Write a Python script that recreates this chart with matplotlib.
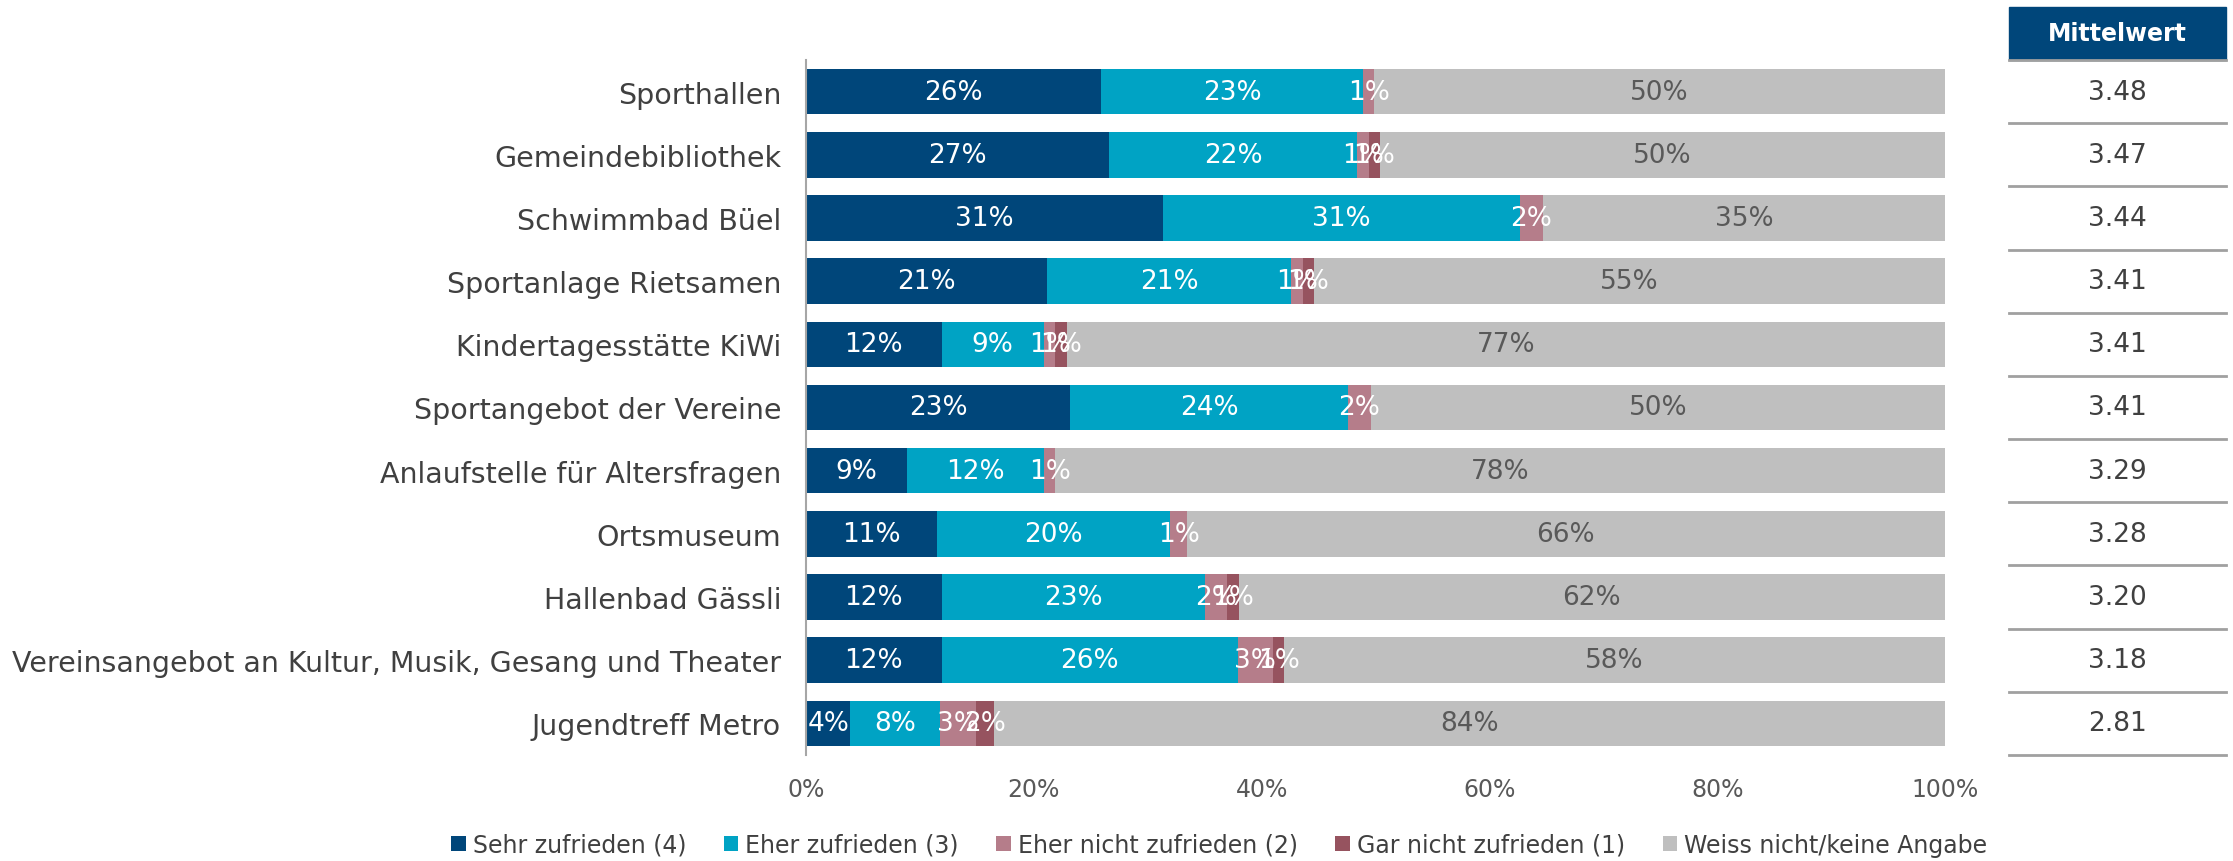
"""Zufriedenheit mit Angeboten der Gemeinde — gestapelte Balken + Mittelwert-Spalte."""
import numpy as np
import matplotlib
matplotlib.use("Agg")
import matplotlib.pyplot as plt
from matplotlib.patches import Patch, Rectangle

CATEGORIES = [
    "Sporthallen",
    "Gemeindebibliothek",
    "Schwimmbad Büel",
    "Sportanlage Rietsamen",
    "Kindertagesstätte KiWi",
    "Sportangebot der Vereine",
    "Anlaufstelle für Altersfragen",
    "Ortsmuseum",
    "Hallenbad Gässli",
    "Vereinsangebot an Kultur, Musik, Gesang und Theater",
    "Jugendtreff Metro",
]
SERIES = [
    "Sehr zufrieden (4)",
    "Eher zufrieden (3)",
    "Eher nicht zufrieden (2)",
    "Gar nicht zufrieden (1)",
    "Weiss nicht/keine Angabe",
]
# shares in %
sehr = [25.9, 26.6, 31.3, 21.2, 11.9, 23.2, 8.9, 11.49, 11.9, 11.9, 3.9]
eher = [23.0, 21.8, 31.4, 21.4, 9.0, 24.4, 12.0, 20.49, 23.1, 26.0, 7.9]
eher_nicht = [1.0, 1.0, 2.0, 1.0, 1.0, 2.0, 1.0, 1.49, 2.0, 3.1, 3.1]
gar_nicht = [0.0, 1.0, 0.0, 1.0, 1.0, 0.0, 0.0, 0.0, 1.0, 1.0, 1.6]
weiss_nicht = [50.1, 49.6, 35.3, 55.4, 77.1, 50.4, 78.1, 66.49, 62.0, 58.0, 83.5]
MITTELWERT = [3.48, 3.47, 3.44, 3.41, 3.41, 3.41, 3.29, 3.28, 3.20, 3.18, 2.81]

COLORS = ["#00467A", "#00A3C4", "#B57D8A", "#96535F", "#BFBFBF"]
LABEL_COLORS = ["white", "white", "white", "white", "#595959"]
TEXT = "#404040"

W, H = 2233, 862
fig = plt.figure(figsize=(W / 100, H / 100), dpi=100)
ax = fig.add_axes([806 / W, 1 - 756 / H, (1945 - 806) / W, (756 - 61) / H])

y = np.arange(len(CATEGORIES))
left = np.zeros(len(CATEGORIES))
for vals, col, lc in zip([sehr, eher, eher_nicht, gar_nicht, weiss_nicht], COLORS, LABEL_COLORS):
    vals = np.array(vals)
    ax.barh(y, vals, left=left, height=0.72, color=col, edgecolor="none")
    for yi, l, v in zip(y, left, vals):
        if v >= 0.5:
            ax.text(l + v / 2, yi, f"{v:.0f}%", ha="center", va="center",
                    color=lc, fontsize=19)
    left += vals

ax.set_xlim(0, 100)
ax.set_ylim(len(CATEGORIES) - 0.5, -0.5)
ax.set_yticks(y)
ax.set_yticklabels(CATEGORIES, fontsize=20.5, color=TEXT)
ax.set_xticks(np.arange(0, 101, 20))
ax.set_xticklabels([f"{t}%" for t in range(0, 101, 20)], fontsize=17, color="#595959")
ax.tick_params(axis="both", length=0)
ax.tick_params(axis="y", pad=18)
ax.tick_params(axis="x", pad=16)
for s in ["top", "right", "bottom"]:
    ax.spines[s].set_visible(False)
ax.spines["left"].set_color("#A6A6A6")
ax.spines["left"].set_linewidth(1.5)

# Mittelwert column
tx = fig.add_axes([2009 / W, 1 - 756 / H, (2226 - 2009) / W, (756 - 61) / H])
tx.set_xlim(0, 1)
tx.set_ylim(len(CATEGORIES) - 0.5, -0.5)
tx.axis("off")
head_h = 53 / 695 * len(CATEGORIES)
tx.add_patch(Rectangle((0, -0.5 - head_h), 1, head_h, color="#00467A", clip_on=False))
tx.text(0.5, -0.5 - head_h / 2, "Mittelwert", ha="center", va="center",
        color="white", fontsize=17, fontweight="bold", clip_on=False)
for yi, m in zip(y, MITTELWERT):
    tx.text(0.5, yi, f"{m:.2f}", ha="center", va="center", color=TEXT, fontsize=19)
for b in np.arange(-0.5, len(CATEGORIES), 1.0):
    tx.plot([0, 1], [b, b], color="#A0A0A0", lw=2, clip_on=False)

handles = [Patch(facecolor=c, edgecolor="none") for c in COLORS]
fig.legend(handles, SERIES, loc="center", bbox_to_anchor=(0.546, 1 - 846 / H), ncol=5,
           frameon=False, fontsize=17, handlelength=0.6, handleheight=0.6,
           handletextpad=0.3, columnspacing=1.6, labelcolor=TEXT)

fig.savefig("out.png", dpi=100)
